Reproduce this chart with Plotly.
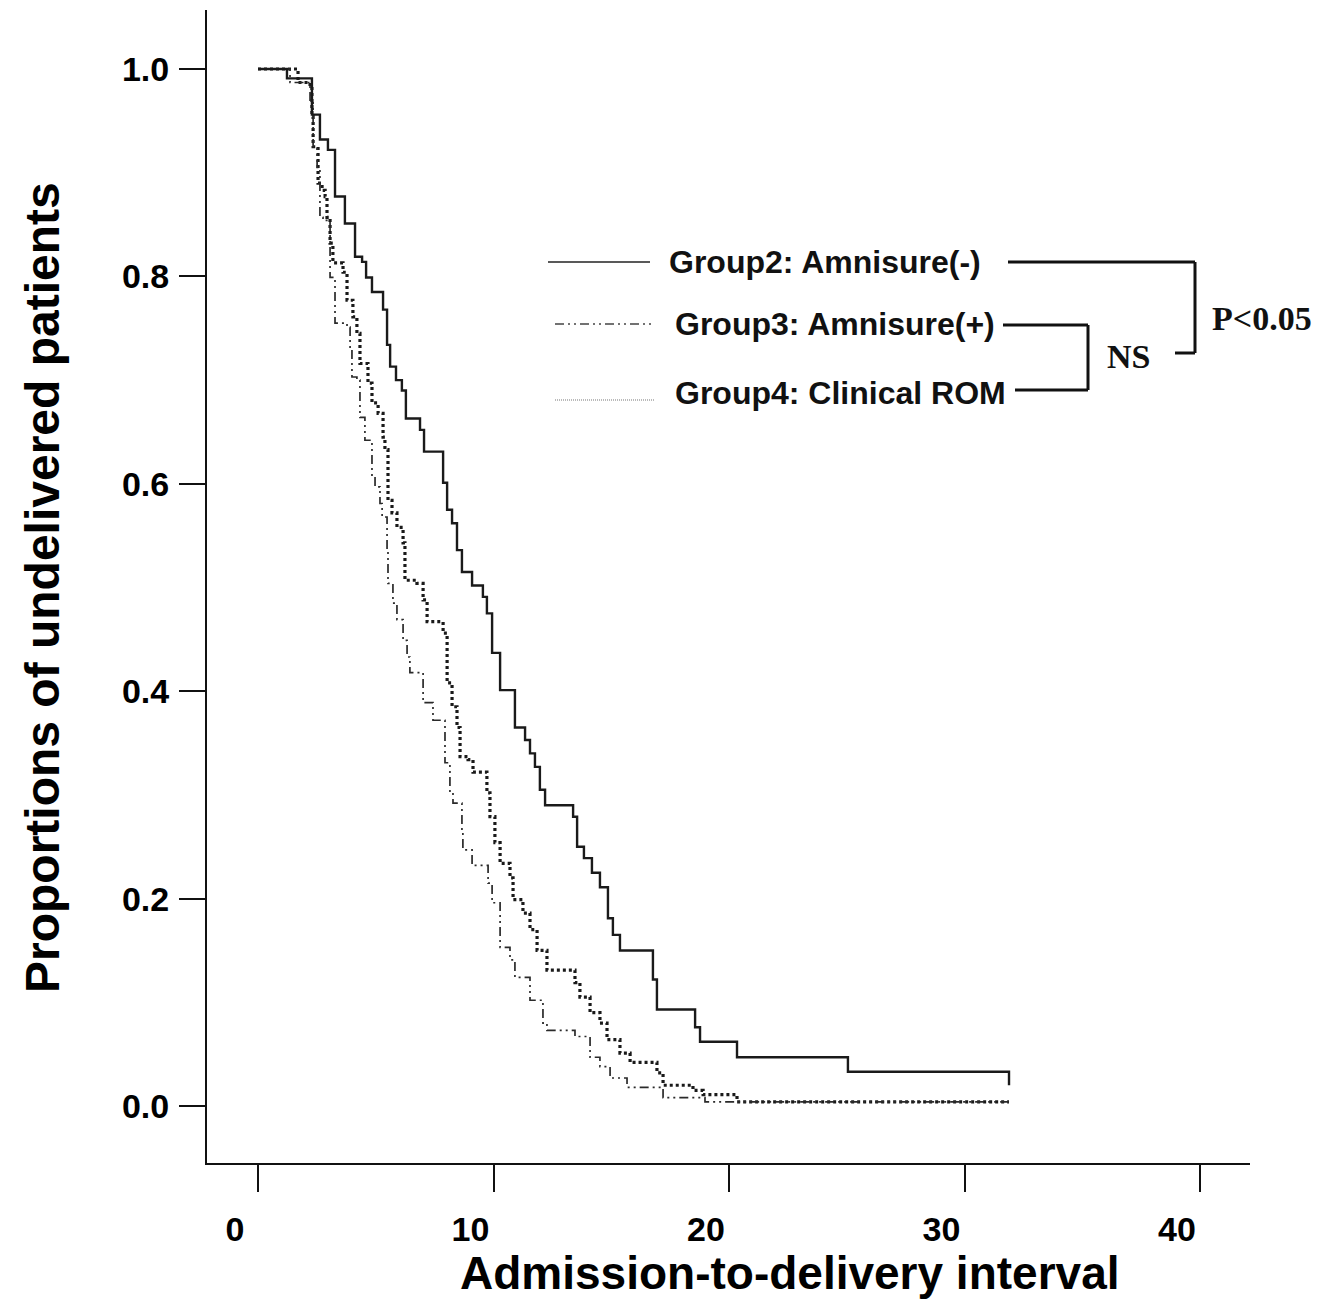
import plotly.graph_objects as go

# ---------------- data ----------------
# Group2: Amnisure(-)  (solid)
times_g2 = [0, 1.23, 2.29, 2.63, 2.97, 3.27, 3.69, 4.12, 4.42, 4.59, 4.84, 5.31, 5.48, 5.61, 5.86,
            6.11, 6.28, 6.88, 7.05, 7.86, 8.03, 8.24, 8.45, 8.66, 9.09, 9.55, 9.72, 9.94, 10.28,
            10.91, 11.34, 11.55, 11.76, 11.97, 12.19, 13.38, 13.55, 13.84, 14.18, 14.52, 14.86,
            15.07, 15.37, 16.77, 16.94, 18.56, 18.77, 20.34, 25.05, 31.89]
surv_g2 = [1.0, 0.991, 0.956, 0.932, 0.922, 0.877, 0.851, 0.819, 0.814, 0.799, 0.785, 0.768, 0.734,
           0.713, 0.700, 0.690, 0.663, 0.652, 0.631, 0.601, 0.575, 0.562, 0.536, 0.515, 0.502,
           0.491, 0.475, 0.437, 0.401, 0.365, 0.353, 0.340, 0.327, 0.305, 0.290, 0.279, 0.250,
           0.239, 0.225, 0.211, 0.181, 0.165, 0.150, 0.122, 0.093, 0.076, 0.062, 0.047, 0.033, 0.033]
censor_g2 = 0.020

# Group3: Amnisure(+)  (dash-dot)
times_g3 = [0, 1.36, 2.21, 2.34, 2.51, 2.63, 2.76, 3.06, 3.27, 3.78, 3.91, 3.99, 4.20, 4.33, 4.54,
            4.84, 4.97, 5.18, 5.27, 5.48, 5.52, 5.73, 5.90, 6.16, 6.33, 6.45, 7.01, 7.43, 7.94,
            8.15, 8.28, 8.66, 8.70, 9.09, 9.77, 9.94, 10.28, 10.70, 10.91, 11.55, 12.10, 12.27,
            13.46, 14.10, 14.52, 14.95, 15.67, 17.20, 18.98, 31.89]
surv_g3 = [1.0, 0.987, 0.970, 0.925, 0.905, 0.857, 0.854, 0.799, 0.755, 0.751, 0.729, 0.703, 0.700,
           0.664, 0.642, 0.607, 0.597, 0.581, 0.568, 0.536, 0.504, 0.485, 0.469, 0.449, 0.433,
           0.418, 0.389, 0.372, 0.331, 0.302, 0.292, 0.266, 0.247, 0.232, 0.215, 0.196, 0.153,
           0.141, 0.124, 0.102, 0.080, 0.073, 0.067, 0.047, 0.038, 0.027, 0.018, 0.008, 0.004, 0.004]

# Group4: Clinical ROM  (dotted)
times_g4 = [0, 1.70, 2.21, 2.29, 2.34, 2.55, 2.72, 2.85, 2.93, 3.06, 3.18, 3.61, 3.78, 4.03, 4.20,
            4.33, 4.67, 4.84, 5.10, 5.31, 5.39, 5.52, 5.69, 5.90, 6.16, 6.24, 6.75, 7.01, 7.18,
            7.86, 8.03, 8.24, 8.45, 8.58, 8.92, 9.13, 9.72, 9.85, 10.06, 10.28, 10.70, 10.83,
            11.25, 11.55, 11.85, 12.27, 13.46, 13.67, 14.10, 14.52, 14.82, 15.37, 15.80, 16.94,
            17.20, 18.47, 18.90, 20.34, 31.89]
surv_g4 = [1.0, 0.987, 0.983, 0.954, 0.925, 0.890, 0.883, 0.877, 0.857, 0.832, 0.813, 0.804, 0.777,
           0.761, 0.745, 0.716, 0.697, 0.678, 0.668, 0.645, 0.633, 0.584, 0.572, 0.558, 0.543,
           0.507, 0.504, 0.488, 0.467, 0.456, 0.408, 0.385, 0.365, 0.337, 0.334, 0.322, 0.302,
           0.279, 0.254, 0.234, 0.220, 0.199, 0.186, 0.170, 0.150, 0.131, 0.119, 0.105, 0.090,
           0.080, 0.064, 0.051, 0.042, 0.032, 0.020, 0.015, 0.011, 0.004, 0.004]

x_ticks = [0, 10, 20, 30, 40]
y_ticks = [0.0, 0.2, 0.4, 0.6, 0.8, 1.0]
legend_labels = ["Group2: Amnisure(-)", "Group3: Amnisure(+)", "Group4: Clinical ROM"]
x_title = "Admission-to-delivery interval"
y_title = "Proportions of undelivered patients"

# ---------------- layout geometry ----------------
# positions below are in page pixels of the reference; the page body adds an 8px margin
OFF = 8
W, H = 1334 - 2 * OFF, 1309 - 2 * OFF
AX_L, AX_R, AX_T, AX_B = 207, 1250, 10, 1163        # plot-area edges (page px)
ML, MT = AX_L - OFF, AX_T - OFF
MR, MB = W - (AX_R - OFF), H - (AX_B - OFF)
PW, PH = AX_R - AX_L, AX_B - AX_T


def px(x):  # page pixel -> paper x
    return (x - AX_L) / PW


def py(y):  # page pixel -> paper y
    return (AX_B - y) / PH


fig = go.Figure()

fig.add_trace(go.Scatter(x=times_g4, y=surv_g4, mode="lines", line_shape="hv",
                         line=dict(color="#1a1a1a", width=3.2, dash="3px,3px"),
                         showlegend=False))
fig.add_trace(go.Scatter(x=times_g3, y=surv_g3, mode="lines", line_shape="hv",
                         line=dict(color="#2a2a2a", width=1.7, dash="9px,4px,2px,4px,2px,4px"),
                         showlegend=False))
fig.add_trace(go.Scatter(x=times_g2 + [times_g2[-1]], y=surv_g2 + [censor_g2], mode="lines",
                         line_shape="hv", line=dict(color="#1a1a1a", width=2.4),
                         showlegend=False))

shapes = []
# legend samples
shapes.append(dict(type="line", xref="paper", yref="paper", x0=px(548), x1=px(650),
                   y0=py(262), y1=py(262), line=dict(color="#222", width=1.5)))
shapes.append(dict(type="line", xref="paper", yref="paper", x0=px(555), x1=px(655),
                   y0=py(324), y1=py(324),
                   line=dict(color="#444", width=1.5, dash="9px,4px,2px,4px,2px,4px")))
shapes.append(dict(type="line", xref="paper", yref="paper", x0=px(555), x1=px(655),
                   y0=py(400), y1=py(400), line=dict(color="#777", width=1.2, dash="1px,1px")))
# brackets
bw = 3
for (a, b, c, d) in [(1008, 262, 1195, 262), (1195, 262, 1195, 353), (1175, 353, 1195, 353),
                     (1003, 325, 1088, 325), (1088, 325, 1088, 390), (1015, 390, 1088, 390)]:
    shapes.append(dict(type="line", xref="paper", yref="paper", x0=px(a), x1=px(c),
                       y0=py(b), y1=py(d), line=dict(color="#111", width=bw)))

leg_font = dict(family="Liberation Sans, Arial", size=32, color="#111")
serif = dict(family="Liberation Serif, Times New Roman", size=34, color="#111")
annotations = [
    dict(text="<b>" + legend_labels[0] + "</b>", x=px(667), y=py(262), xref="paper", yref="paper",
         xanchor="left", yanchor="middle", showarrow=False, font=leg_font),
    dict(text="<b>" + legend_labels[1] + "</b>", x=px(673), y=py(324), xref="paper", yref="paper",
         xanchor="left", yanchor="middle", showarrow=False, font=leg_font),
    dict(text="<b>" + legend_labels[2] + "</b>", x=px(673), y=py(393), xref="paper", yref="paper",
         xanchor="left", yanchor="middle", showarrow=False, font=leg_font),
    dict(text="<b>NS</b>", x=px(1128), y=py(357), xref="paper", yref="paper",
         xanchor="center", yanchor="middle", showarrow=False, font=serif),
    dict(text="<b>P&lt;0.05</b>", x=px(1210), y=py(318), xref="paper", yref="paper",
         xanchor="left", yanchor="middle", showarrow=False, font=serif),
    dict(text="<b>" + x_title + "</b>", x=px(790), y=py(1273), xref="paper", yref="paper",
         xanchor="center", yanchor="middle", showarrow=False,
         font=dict(family="Liberation Sans, Arial", size=46, color="#000")),
    dict(text="<b>" + y_title + "</b>", x=px(42), y=py(588), xref="paper", yref="paper",
         xanchor="center", yanchor="middle", showarrow=False, textangle=-90,
         font=dict(family="Liberation Sans, Arial", size=48, color="#000")),
]

x_per_px = 23.55     # pixels per x unit, x = 0 at page px 258
y_per_px = 1037.0    # pixels per y unit, y = 0 at page px 1106
fig.update_layout(
    width=W, height=H,
    margin=dict(l=ML, r=MR, t=MT, b=MB, pad=0),
    paper_bgcolor="white", plot_bgcolor="white",
    shapes=shapes, annotations=annotations,
    xaxis=dict(range=[(AX_L - 258) / x_per_px, (AX_R - 258) / x_per_px],
               tickvals=x_ticks, ticktext=[str(v) for v in x_ticks],
               showgrid=False, zeroline=False, showline=True, linecolor="#111", linewidth=2,
               ticks="outside", ticklen=27, tickwidth=1.5, tickcolor="#111",
               ticklabelshift=-23, ticklabelstandoff=8,
               tickfont=dict(family="Liberation Sans, Arial", size=34, color="#000", weight="bold")),
    yaxis=dict(range=[(1106 - AX_B) / y_per_px, (1106 - AX_T) / y_per_px],
               tickvals=y_ticks, tickformat=".1f",
               showgrid=False, zeroline=False, showline=True, linecolor="#111", linewidth=2,
               ticks="outside", ticklen=26, tickwidth=1.5, tickcolor="#111",
               ticklabelstandoff=3,
               tickfont=dict(family="Liberation Sans, Arial", size=34, color="#000", weight="bold")),
)

fig.write_html("out.html")
